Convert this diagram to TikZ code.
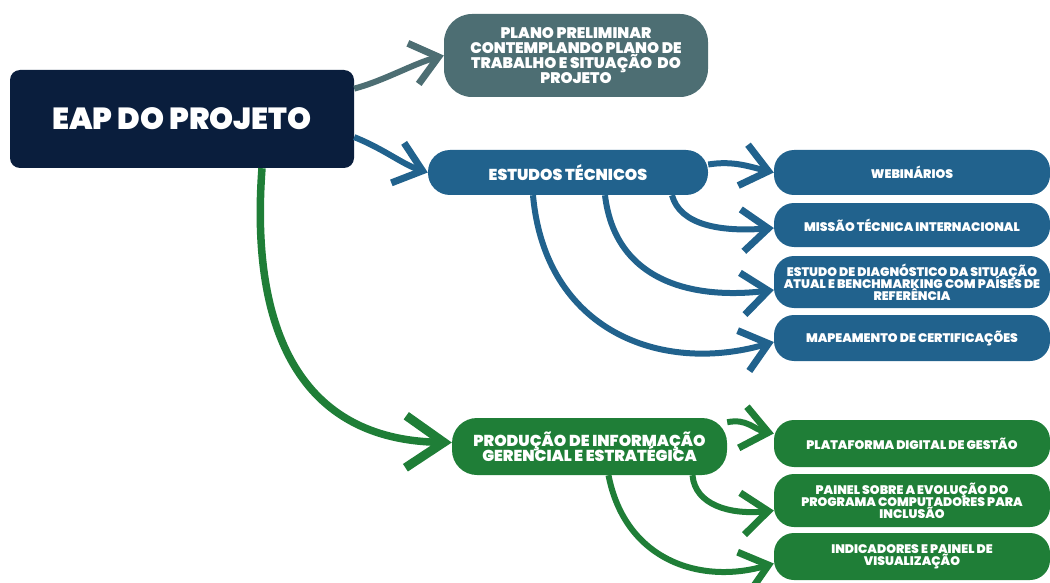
\documentclass[tikz,border=0pt]{standalone}
\usepackage{fontspec}
\setmainfont{Poppins}[BoldFont={Poppins Black}]
\usetikzlibrary{arrows.meta}
\definecolor{navy}{HTML}{0A1E3D}
\definecolor{slate}{HTML}{4D6E73}
\definecolor{steel}{HTML}{21628D}
\definecolor{leaf}{HTML}{1F7E37}
\lineskiplimit=-40pt
\begin{document}
\begin{tikzpicture}[x=1pt,y=-1pt,
  box/.style={rectangle,text=white,font=\bfseries,align=center,inner sep=0pt},
  sub/.style={box,minimum width=276pt,rounded corners=20pt,font=\bfseries\fontsize{12.4}{12}\selectfont},
  arr/.style={line width=6pt,-{Straight Barb[length=26pt,width=42pt,line width=7pt]}},
  bigarr/.style={line width=7.5pt,-{Straight Barb[length=38pt,width=52pt,line width=9pt]}},
]
\useasboundingbox (0,0) rectangle (1050,583);
% nodes
\node[box,fill=navy,minimum width=344pt,minimum height=98pt,rounded corners=10pt,font=\bfseries\fontsize{30.5}{31}\selectfont] (eap) at (182,119) {EAP DO PROJETO};
\node[box,fill=slate,minimum width=264pt,minimum height=83pt,rounded corners=28pt,font=\bfseries\fontsize{15.3}{15}\selectfont] (plano) at (576,55.5) {PLANO PRELIMINAR\\CONTEMPLANDO PLANO DE\\TRABALHO E SITUAÇÃO~ DO\\PROJETO};
\node[box,fill=steel,minimum width=280pt,minimum height=45pt,rounded corners=22pt,font=\bfseries\fontsize{15.8}{15}\selectfont] (est) at (568,172.5) {ESTUDOS TÉCNICOS};
\node[sub,fill=steel,minimum height=45pt] (web) at (912,172.5) {WEBINÁRIOS};
\node[sub,fill=steel,minimum height=44pt] (mis) at (912,225) {MISSÃO TÉCNICA INTERNACIONAL};
\node[sub,fill=steel,minimum height=52pt] (diag) at (912,282) {ESTUDO DE DIAGNÓSTICO DA SITUAÇÃO\\ATUAL E BENCHMARKING COM PAÍSES DE\\REFERÊNCIA};
\node[sub,fill=steel,minimum height=46pt] (map) at (912,338) {MAPEAMENTO DE CERTIFICAÇÕES};
\node[box,fill=leaf,minimum width=275pt,minimum height=57pt,rounded corners=25pt,font=\bfseries\fontsize{15.8}{15}\selectfont] (prod) at (589.5,446.5) {PRODUÇÃO DE INFORMAÇÃO\\GERENCIAL E ESTRATÉGICA};
\node[sub,fill=leaf,minimum height=47pt] (plat) at (912,443.5) {PLATAFORMA DIGITAL DE GESTÃO};
\node[sub,fill=leaf,minimum height=53pt] (pain) at (912,500.5) {PAINEL SOBRE A EVOLUÇÃO DO\\PROGRAMA COMPUTADORES PARA\\INCLUSÃO};
\node[sub,fill=leaf,minimum height=47pt] (ind) at (912,556.5) {INDICADORES E PAINEL DE\\VISUALIZAÇÃO};
% arrows
\draw[arr,slate] (eap.10) .. controls +(30,-8) and +(-30,8) .. (plano.west);
\draw[arr,steel] (eap.-6) .. controls +(30,12) and +(-25,-8) .. (est.west);
\draw[bigarr,leaf] ([xshift=80pt]eap.south) .. controls (250,330) and (300,440) .. ([yshift=4pt]prod.west);
\draw[arr,steel] ([yshift=8pt]est.east) .. controls +(25,-4) and +(-25,-6) .. (web.west);
\draw[arr,steel] ([xshift=104pt]est.south) .. controls (680,225) and (720,232) .. ([yshift=-3pt]mis.west);
\draw[arr,steel] ([xshift=37pt]est.south) .. controls (615,280) and (690,300) .. ([yshift=-8pt]diag.west);
\draw[arr,steel] ([xshift=-35pt]est.south) .. controls (545,330) and (660,375) .. ([yshift=-4pt]map.west);
\draw[arr,leaf] (prod.10) .. controls +(20,-4) and +(-20,-4) .. ([yshift=10pt]plat.west);
\draw[arr,leaf] ([xshift=103pt]prod.south) .. controls (695,505) and (730,515) .. ([yshift=-10pt]pain.west);
\draw[arr,leaf] ([xshift=19pt]prod.south) .. controls (625,560) and (700,585) .. ([yshift=-7pt]ind.west);
\end{tikzpicture}
\end{document}
